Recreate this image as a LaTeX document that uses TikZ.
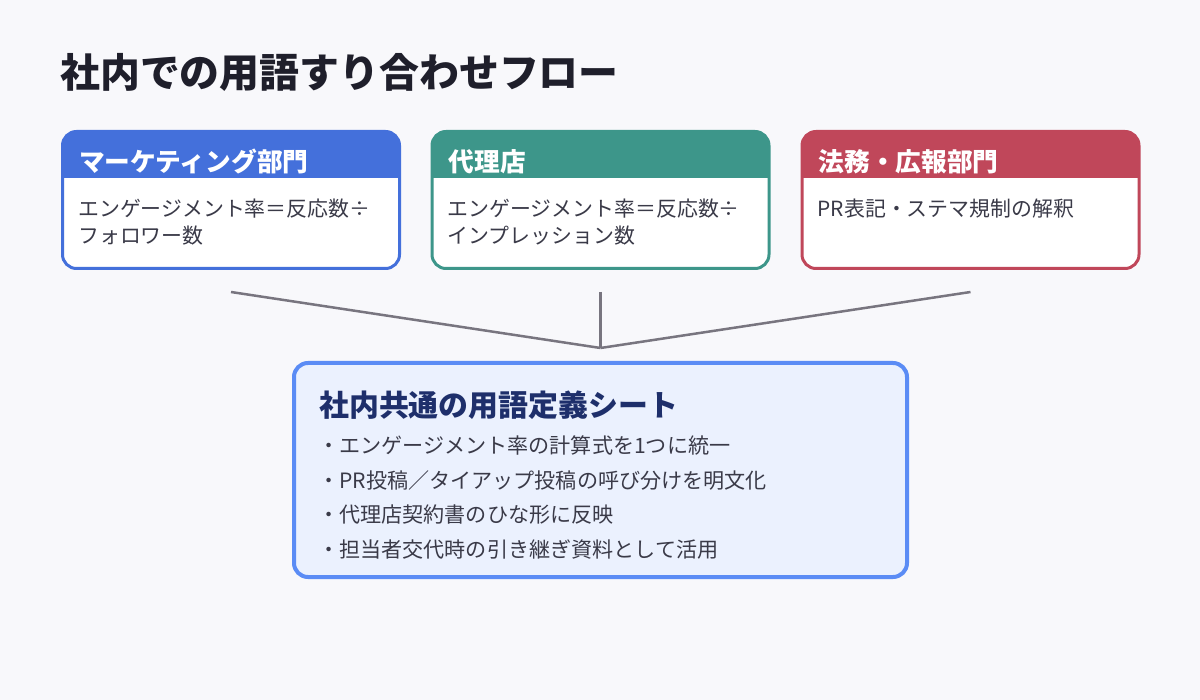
\documentclass[tikz,border=0pt]{standalone}
\usepackage{fontspec}
\setmainfont{Noto Sans CJK JP}
\definecolor{pageBg}{HTML}{F8F8FB}
\definecolor{mktBlue}{HTML}{4470DB}
\definecolor{agencyTeal}{HTML}{3D968A}
\definecolor{legalRed}{HTML}{C0475A}
\definecolor{bodyGray}{HTML}{3A3A48}
\definecolor{titleInk}{HTML}{1F1F2B}
\definecolor{feedGray}{HTML}{78757F}
\definecolor{sheetFill}{HTML}{EBF1FE}
\definecolor{sheetEdge}{HTML}{5B8CF5}
\definecolor{sheetNavy}{HTML}{1E2F6B}

\begin{document}
\begin{tikzpicture}[
  x=1pt,y=-1pt,
  dept/.style={draw=#1,line width=3pt,fill=white,rounded corners=14pt,
    minimum width=337pt,minimum height=137pt,inner sep=0pt,
    path picture={\fill[#1,sharp corners] (path picture bounding box.north west)
      rectangle ([yshift=-46.5pt]path picture bounding box.north east);}},
  deptTitle/.style={anchor=base west,inner sep=0pt,text=white,
    font=\fontsize{25.7pt}{30pt}\selectfont\bfseries},
  deptBody/.style={anchor=base west,inner sep=0pt,align=left,text=bodyGray,
    font=\fontsize{20.9pt}{27pt}\selectfont},
  sheet/.style={draw=sheetEdge,line width=4pt,fill=sheetFill,rounded corners=14pt,
    minimum width=613pt,minimum height=214pt,inner sep=0pt},
  sheetTitle/.style={anchor=base west,inner sep=0pt,text=sheetNavy,
    font=\fontsize{29.9pt}{34pt}\selectfont\bfseries},
  sheetList/.style={anchor=base west,inner sep=0pt,align=left,text=bodyGray,
    font=\fontsize{21.1pt}{34.5pt}\selectfont},
  feed/.style={-,line width=2.5pt,feedGray}]

  % page
  \fill[pageBg] (0,0) rectangle (1200,700);
  \useasboundingbox (0,0) rectangle (1200,700);

  \node[anchor=base west,inner sep=0pt,text=titleInk,
    font=\fontsize{39.9pt}{44pt}\selectfont\bfseries] (heading) at (60,88) {社内での用語すり合わせフロー};

  % departments
  \node[dept=mktBlue] (mkt) at (231,200) {};
  \node[dept=agencyTeal] (agency) at (600.5,200) {};
  \node[dept=legalRed] (legal) at (970.5,200) {};

  \node[deptTitle] (mktTitle) at ([xshift=18pt,yshift=-41.5pt]mkt.north west) {マーケティング部門};
  \node[deptTitle] (agencyTitle) at ([xshift=18pt,yshift=-41.5pt]agency.north west) {代理店};
  \node[deptTitle] (legalTitle) at ([xshift=18pt,yshift=-41.5pt]legal.north west) {法務・広報部門};

  % multi-line texts sit on their last line
  \node[deptBody] (mktBody) at ([xshift=17pt,yshift=-113.5pt]mkt.north west) {エンゲージメント率＝反応数÷\\フォロワー数};
  \node[deptBody] (agencyBody) at ([xshift=17pt,yshift=-113.5pt]agency.north west) {エンゲージメント率＝反応数÷\\インプレッション数};
  \node[deptBody] (legalBody) at ([xshift=17pt,yshift=-86.5pt]legal.north west) {PR表記・ステマ規制の解釈};

  % shared sheet
  \node[sheet] (glossary) at (600.5,470) {};
  \node[sheetTitle] (glossaryTitle) at ([xshift=27pt,yshift=-56pt]glossary.north west) {社内共通の用語定義シート};
  \node[sheetList] (glossaryList) at ([xshift=26pt,yshift=-196pt]glossary.north west)
    {・エンゲージメント率の計算式を1つに統一\\
     ・PR投稿／タイアップ投稿の呼び分けを明文化\\
     ・代理店契約書のひな形に反映\\
     ・担当者交代時の引き継ぎ資料として活用};

  % feeds into the sheet
  \coordinate (merge) at ([yshift=13pt]glossary.north);
  \draw[feed] ([yshift=-22pt]mkt.south) -- (merge);
  \draw[feed] ([yshift=-22pt]agency.south) -- (merge);
  \draw[feed] ([yshift=-22pt]legal.south) -- (merge);
\end{tikzpicture}
\end{document}
